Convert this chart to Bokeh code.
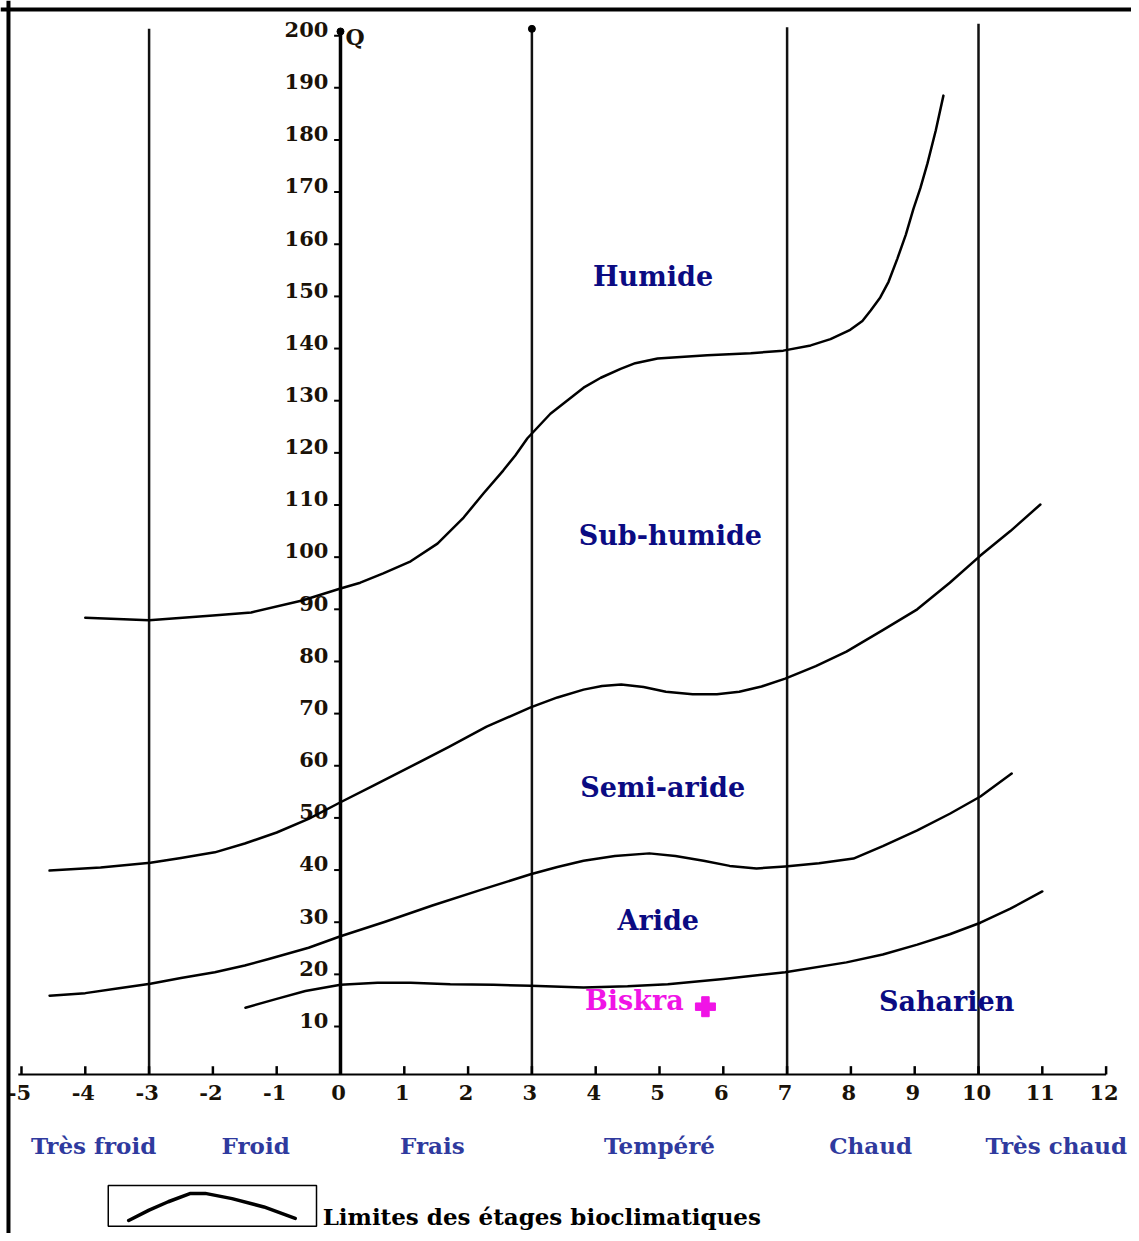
from bokeh.plotting import figure
from bokeh.models import Range1d, Span
from bokeh.core.properties import value
from bokeh.embed import file_html
from bokeh.resources import INLINE

# ---------------- data (m in °C on x, Q2 on y) ----------------
X_TICKS = list(range(-5, 13))
Y_TICKS = list(range(10, 201, 10))

# vertical boundaries of thermal variants (m)
V_LINES = [-3, 3, 7, 10]
V_TOPS = [200.5, 200.5, 200.8, 201.5]

# bioclimatic limits
HUM_X = [-4.0, -3.0, -2.0, -1.4, -0.6, 0.0, 0.31, 0.67, 1.1, 1.52, 1.93, 2.24, 2.55, 2.74,
         2.93, 3.29, 3.53, 3.81, 4.08, 4.39, 4.62, 4.97, 5.75, 6.43, 6.94, 7.37, 7.68,
         7.99, 8.18, 8.31, 8.46, 8.59, 8.73, 8.86, 8.98, 9.09, 9.2, 9.33, 9.45]
HUM_Q = [87.6, 87.1, 88.0, 88.6, 90.9, 93.2, 94.3, 96.1, 98.4, 101.8, 106.8, 111.4, 115.8, 118.7,
         122.0, 126.7, 129.0, 131.7, 133.6, 135.3, 136.4, 137.3, 137.9, 138.3, 138.8, 139.8, 141.0,
         142.8, 144.5, 146.5, 149.0, 152.0, 156.5, 161.0, 166.0, 170.0, 174.7, 181.0, 187.7]

SUB_X = [-4.56, -3.76, -2.98, -2.5, -1.97, -1.5, -1.0, -0.5, 0.0, 0.5, 1.16, 1.7, 2.29, 2.98,
         3.4, 3.81, 4.1, 4.4, 4.75, 5.1, 5.52, 5.9, 6.25, 6.6, 6.97, 7.45, 7.93, 8.5, 9.04,
         9.55, 10.03, 10.5, 10.97]
SUB_Q = [39.1, 39.7, 40.6, 41.5, 42.6, 44.3, 46.4, 49.0, 52.2, 55.3, 59.4, 62.8, 66.7, 70.4,
         72.3, 73.8, 74.5, 74.8, 74.3, 73.4, 72.9, 72.9, 73.4, 74.4, 75.9, 78.3, 81.1, 85.2, 89.2,
         94.3, 99.5, 104.2, 109.3]

SEMI_X = [-4.56, -4.0, -3.5, -2.98, -2.5, -1.97, -1.5, -1.11, -0.5, 0.0, 0.7, 1.44, 2.2, 2.98,
          3.4, 3.81, 4.3, 4.84, 5.25, 5.69, 6.1, 6.52, 6.97, 7.5, 8.04, 8.5, 9.04, 9.55,
          10.03, 10.52]
SEMI_Q = [15.1, 15.6, 16.5, 17.4, 18.5, 19.6, 20.9, 22.2, 24.3, 26.5, 29.3, 32.4, 35.4, 38.4,
          39.8, 41.0, 41.9, 42.4, 41.9, 41.0, 40.0, 39.5, 39.9, 40.5, 41.4, 43.8, 46.8, 50.0,
          53.3, 57.7]

ARI_X = [-1.49, -1.0, -0.55, 0.0, 0.58, 1.1, 1.72, 2.4, 2.98, 3.81, 4.5, 5.13, 6.0, 6.97,
         7.93, 8.5, 9.04, 9.55, 10.03, 10.5, 11.0]
ARI_Q = [12.8, 14.5, 16.0, 17.2, 17.6, 17.6, 17.3, 17.2, 17.0, 16.7, 16.9, 17.3, 18.3, 19.6,
         21.5, 23.0, 24.9, 26.9, 29.1, 31.8, 35.1]

# station
STATION = "Biskra"
STATION_M = 5.72
STATION_Q = 13.0

# zone labels
ZONES = ["Humide", "Sub-humide", "Semi-aride", "Aride", "Saharien"]
ZONES_X = [4.9, 5.17, 5.05, 4.98, 9.5]
ZONES_Q = [153.0, 103.4, 55.0, 29.5, 14.0]

# thermal variants
VARIANTS = ["Très froid", "Froid", "Frais", "Tempéré", "Chaud", "Très chaud"]
VARIANTS_X = [-3.87, -1.33, 1.44, 5.0, 8.31, 11.22]

LEGEND_LABEL = "Limites des étages bioclimatiques"
# legend swatch shape
SW_X = [-3.32, -3.0, -2.7, -2.35, -2.12, -1.7, -1.2, -0.71]
SW_Q = [-28.0, -26.0, -24.4, -22.8, -22.8, -23.8, -25.4, -27.6]

# ---------------- figure ----------------
X0, X1 = -5.329, 12.398
Y0, Y1 = -30.49, 205.94
p = figure(width=1131, height=1233, output_backend="svg", toolbar_location=None,
           x_range=Range1d(X0, X1), y_range=Range1d(Y0, Y1),
           x_axis_type=None, y_axis_type=None, min_border=0)
p.grid.visible = False
p.outline_line_color = None
p.background_fill_color = "white"

# frame (left and top)
p.add_layout(Span(location=-5.204, dimension="height", line_color="black", line_width=4))
p.add_layout(Span(location=204.2, dimension="width", line_color="black", line_width=4))

FONT = value("DejaVu Serif")
NUM_COLOR = "#1a1208"

# vertical lines
p.segment(x0=V_LINES, y0=[0] * len(V_LINES), x1=V_LINES, y1=V_TOPS,
          line_color="#111111", line_width=2.5)
# y axis at m = 0
p.segment(x0=[0], y0=[0], x1=[0], y1=[200], line_color="black", line_width=3.5)
p.scatter(x=[0, 3], y=[200, 200.5], size=7, color="black")
# y ticks
p.segment(x0=[-0.1] * len(Y_TICKS), y0=[q - 0.8 for q in Y_TICKS],
          x1=[0] * len(Y_TICKS), y1=[q - 0.8 for q in Y_TICKS], line_color="black", line_width=2)
p.text(x=[-0.19] * len(Y_TICKS), y=Y_TICKS, text=[str(v) for v in Y_TICKS],
       text_font=FONT, text_font_style="bold", text_font_size="21px",
       text_color=NUM_COLOR, text_align="right", text_baseline="middle", y_offset=-2)
p.text(x=[0.08], y=[199], text=["Q"], text_font=FONT, text_font_style="bold",
       text_font_size="22px", text_color=NUM_COLOR, text_align="left", text_baseline="middle")

# x axis
p.segment(x0=[X_TICKS[0] - 0.05], y0=[0], x1=[X_TICKS[-1]], y1=[0], line_color="black", line_width=2)
p.segment(x0=X_TICKS, y0=[0] * len(X_TICKS), x1=X_TICKS, y1=[1.6] * len(X_TICKS),
          line_color="black", line_width=2.5)
p.text(x=X_TICKS, y=[0] * len(X_TICKS), text=[str(v) for v in X_TICKS],
       text_font=FONT, text_font_style="bold", text_font_size="21px",
       text_color=NUM_COLOR, text_align="center", text_baseline="middle", y_offset=18,
       x_offset=-2)

# bioclimatic limits
for xs, qs in [(HUM_X, HUM_Q), (SUB_X, SUB_Q), (SEMI_X, SEMI_Q), (ARI_X, ARI_Q)]:
    p.line(xs, qs, line_color="black", line_width=2.5, line_join="round", line_cap="round")

# zone labels
p.text(x=ZONES_X, y=ZONES_Q, text=ZONES, text_font=FONT, text_font_style="bold",
       text_font_size="27px", text_color="#0b0b82", text_align="center", text_baseline="middle")

# station
p.scatter(x=[STATION_M], y=[STATION_Q], marker="plus", size=20, color="#f014e6")
p.text(x=[STATION_M - 0.34], y=[STATION_Q + 1.2], text=[STATION], text_font=FONT,
       text_font_style="bold", text_font_size="27px", text_color="#f014e6",
       text_align="right", text_baseline="middle")

# thermal variants
p.text(x=VARIANTS_X, y=[0] * len(VARIANTS), text=VARIANTS, text_font=FONT,
       text_font_style="bold", text_font_size="23px", text_color="#2f3a9e",
       text_align="center", text_baseline="middle", y_offset=71)

# legend
p.quad(left=[-3.64], right=[-0.376], bottom=[-29.1], top=[-21.3],
       fill_color=None, line_color="black", line_width=1.5)
p.line(SW_X, SW_Q, line_color="black", line_width=3.5, line_cap="round")
p.text(x=[-0.28], y=[-27.2], text=[LEGEND_LABEL], text_font=FONT,
       text_font_style="bold", text_font_size="23px", text_color="black",
       text_align="left", text_baseline="middle")

open("out.html", "w").write(file_html(p, INLINE))
